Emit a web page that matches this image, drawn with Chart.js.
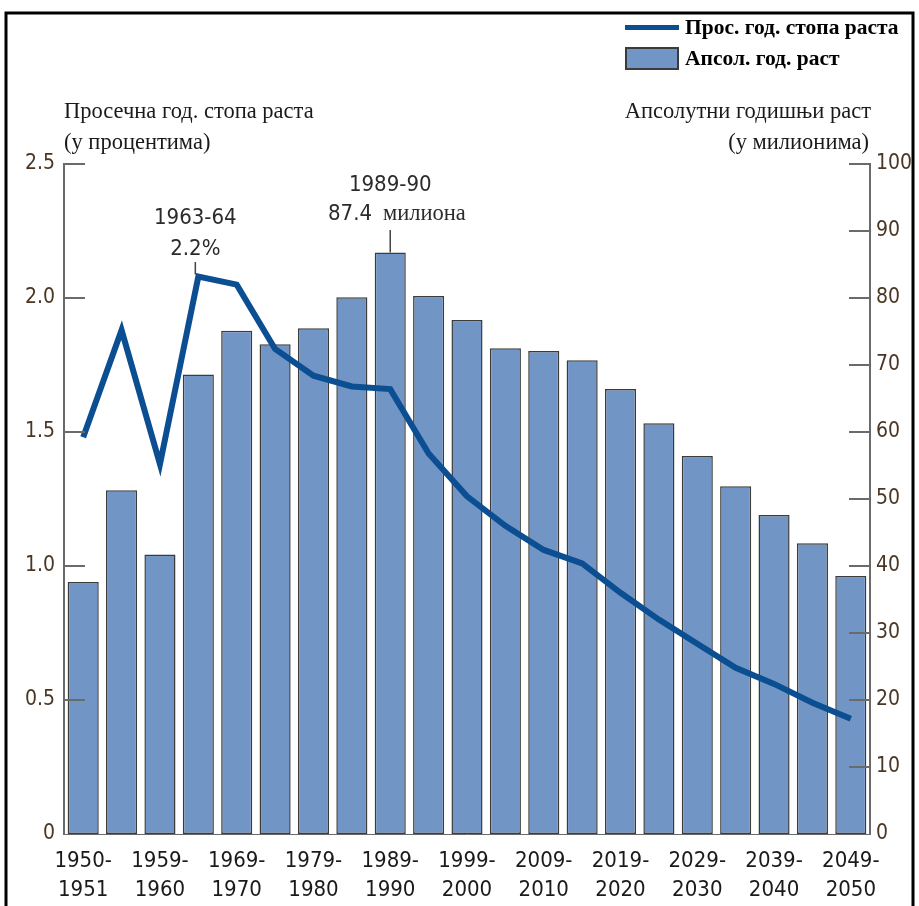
<!DOCTYPE html>
<html>
<head>
<meta charset="utf-8">
<script src="https://cdn.jsdelivr.net/npm/chart.js@4.4.1/dist/chart.umd.min.js"></script>
<style>
  html, body { margin: 0; padding: 0; background: #ffffff; }
  canvas { display: block; }
</style>
</head>
<body>
<canvas id="growthChart" width="919" height="906"></canvas>
<script>
// ===== DATA =====
const periods = ['1950-1951', '1954-1955', '1959-1960', '1964-1965', '1969-1970', '1974-1975',
  '1979-1980', '1984-1985', '1989-1990', '1994-1995', '1999-2000', '2004-2005', '2009-2010',
  '2014-2015', '2019-2020', '2024-2025', '2029-2030', '2034-2035', '2039-2040', '2044-2045', '2049-2050'];
// Апсолутни годишњи раст (у милионима)
const absGrowth = [37.6, 51.3, 41.7, 68.6, 75.1, 73.1, 75.5, 80.1, 86.8, 80.3, 76.7,
  72.5, 72.1, 70.7, 66.4, 61.3, 56.4, 51.9, 47.6, 43.4, 38.5];
// Просечна год. стопа раста (у процентима)
const avgRate = [1.48, 1.88, 1.38, 2.08, 2.05, 1.81, 1.71, 1.67, 1.66, 1.42, 1.26,
  1.15, 1.06, 1.01, 0.90, 0.80, 0.71, 0.62, 0.56, 0.49, 0.43];
const rateTicks = [0, 0.5, 1.0, 1.5, 2.0, 2.5];
const absTicks = [0, 10, 20, 30, 40, 50, 60, 70, 80, 90, 100];

const BAR_FILL = '#7195c5';
const BAR_EDGE = '#3b3b3b';
const LINE_COL = '#0b4f92';
const AXIS_COL = '#6a6a6a';
const TICK_TXT = '#4a3623';
const SANS = "'DejaVu Sans Condensed', 'Liberation Sans Narrow', sans-serif";
const SERIF = "'Liberation Serif', 'DejaVu Serif', serif";

// Цртање оквира, легенде, наслова оса и напомена
const decorPlugin = {
  id: 'decor',
  afterDraw(chart) {
    const ctx = chart.ctx;
    const yL = chart.scales.y;
    const yR = chart.scales.y1;
    const x = chart.scales.x;
    const area = chart.chartArea;
    ctx.save();

    // оквир
    ctx.strokeStyle = '#000';
    ctx.lineWidth = 3;
    ctx.beginPath();
    ctx.moveTo(6, 920);
    ctx.lineTo(6, 13);
    ctx.lineTo(913, 13);
    ctx.lineTo(913, 920);
    ctx.stroke();

    // унутрашње црте на осама
    ctx.strokeStyle = AXIS_COL;
    ctx.lineWidth = 2;
    rateTicks.forEach(v => {
      if (v === 0) return;
      const py = yL.getPixelForValue(v);
      ctx.beginPath();
      ctx.moveTo(area.left, py);
      ctx.lineTo(area.left + 21, py);
      ctx.stroke();
    });
    absTicks.forEach(v => {
      if (v === 0) return;
      const py = yR.getPixelForValue(v);
      ctx.beginPath();
      ctx.moveTo(area.right, py);
      ctx.lineTo(area.right - 21, py);
      ctx.stroke();
    });

    // легенда
    ctx.fillStyle = LINE_COL;
    ctx.fillRect(625, 25, 54, 5);
    ctx.fillStyle = BAR_FILL;
    ctx.fillRect(626, 48, 52, 21);
    ctx.strokeStyle = BAR_EDGE;
    ctx.lineWidth = 2;
    ctx.strokeRect(626, 48, 52, 21);
    ctx.fillStyle = '#000';
    ctx.font = 'bold 21.5px ' + SERIF;
    ctx.textBaseline = 'middle';
    ctx.textAlign = 'left';
    ctx.fillText('Прос. год. стопа раста', 685, 28);
    ctx.fillText('Апсол. год. раст', 685, 59);

    // наслови оса
    ctx.font = '22.5px ' + SERIF;
    ctx.fillStyle = '#1a1a1a';
    ctx.fillText('Просечна год. стопа раста', 64, 112);
    ctx.fillText('(у процентима)', 64, 143);
    ctx.textAlign = 'right';
    ctx.fillText('Апсолутни годишњи раст', 871, 112);
    ctx.fillText('(у милионима)', 869, 143);

    // напомене
    ctx.textAlign = 'center';
    ctx.fillStyle = '#2b2b2b';
    ctx.font = '22px ' + SANS;
    const px3 = x.getPixelForValue(3);
    ctx.fillText('1963-64', px3 - 3, 218);
    ctx.fillText('2.2%', px3 - 3, 249);
    const px8 = x.getPixelForValue(8);
    ctx.fillText('1989-90', px8, 185);
    ctx.textAlign = 'left';
    ctx.fillText('87.4', 328, 214);
    ctx.font = '22.5px ' + SERIF;
    ctx.fillText('милиона', 383, 214);

    ctx.strokeStyle = '#444';
    ctx.lineWidth = 1.5;
    ctx.beginPath();
    ctx.moveTo(px3 - 3, 262);
    ctx.lineTo(px3 - 3, yL.getPixelForValue(avgRate[3]) - 2);
    ctx.moveTo(px8, 230);
    ctx.lineTo(px8, yR.getPixelForValue(absGrowth[8]));
    ctx.stroke();

    ctx.restore();
  }
};

new Chart(document.getElementById('growthChart').getContext('2d'), {
  data: {
    labels: periods,
    datasets: [
      {
        type: 'line',
        label: 'Прос. год. стопа раста',
        data: avgRate,
        yAxisID: 'y',
        borderColor: LINE_COL,
        borderWidth: 6,
        pointRadius: 0,
        tension: 0,
        borderJoinStyle: 'miter',
        fill: false,
        order: 0
      },
      {
        type: 'bar',
        label: 'Апсол. год. раст',
        data: absGrowth,
        yAxisID: 'y1',
        backgroundColor: BAR_FILL,
        borderColor: BAR_EDGE,
        borderWidth: 1.5,
        borderSkipped: false,
        barPercentage: 0.81,
        categoryPercentage: 1,
        order: 1
      }
    ]
  },
  options: {
    responsive: false,
    devicePixelRatio: 1,
    animation: false,
    layout: { padding: { top: 164, left: 0, right: 0, bottom: 0 } },
    plugins: {
      legend: { display: false },
      tooltip: { enabled: false }
    },
    scales: {
      x: {
        offset: true,
        grid: { display: false },
        border: { display: true, color: AXIS_COL, width: 1 },
        ticks: {
          autoSkip: false,
          maxRotation: 0,
          minRotation: 0,
          padding: 5,
          color: '#1a1a1a',
          font: { family: SANS, size: 22, lineHeight: 1.32 },
          callback: function (v, i) {
            if (i % 2 !== 0) return '';
            const p = periods[i].split('-');
            return [p[0] + '-', p[1]];
          }
        },
        afterFit: s => { s.height = 72; }
      },
      y: {
        position: 'left',
        min: 0,
        max: 2.5,
        grid: { display: false },
        border: { display: true, color: AXIS_COL, width: 2 },
        ticks: {
          stepSize: 0.5,
          padding: 1,
          color: TICK_TXT,
          font: { family: SANS, size: 21 },
          callback: v => (v === 0 ? '0' : v.toFixed(1))
        },
        afterFit: s => { s.width = 64; }
      },
      y1: {
        position: 'right',
        min: 0,
        max: 100,
        grid: { display: false },
        border: { display: true, color: AXIS_COL, width: 2 },
        ticks: {
          stepSize: 10,
          padding: -2,
          color: TICK_TXT,
          font: { family: SANS, size: 21 }
        },
        afterFit: s => { s.width = 49; }
      }
    }
  },
  plugins: [decorPlugin]
});
</script>
</body>
</html>
